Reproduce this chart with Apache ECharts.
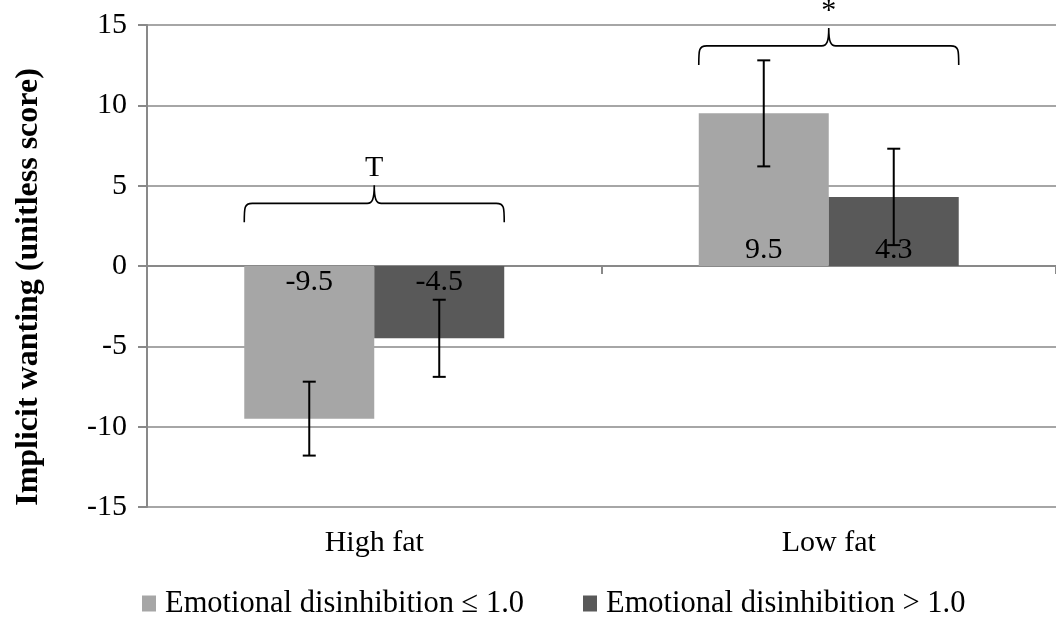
<!DOCTYPE html>
<html>
<head>
<meta charset="utf-8">
<script src="https://cdn.jsdelivr.net/npm/echarts@6/dist/echarts.min.js"></script>
<style>
html,body{margin:0;padding:0;background:#fff;}
#chart{width:1056px;height:621px;}
</style>
</head>
<body>
<div id="chart"></div>
<script>
// ---- data ----
const categories = ['High fat', 'Low fat'];
const seriesNames = ['Emotional disinhibition \u2264 1.0', 'Emotional disinhibition > 1.0'];
const lowEDValues = [-9.5, 9.5];
const highEDValues = [-4.5, 4.3];
const lowEDErrors = [2.3, 3.3];
const highEDErrors = [2.4, 3.0];
const yMin = -15, yMax = 15, yInterval = 5;
const braceCategory = [0, 1];
const braceLevel = [3.9, 13.7];
const braceMark = ['T', '*'];
const yAxisTitle = 'Implicit wanting (unitless score)';

// ---- styling ----
const FONT = "'Liberation Serif', 'Times New Roman', serif";
const FS = 30;
const GRID_COLOR = '#898989';
const BAR_FRAC = 0.286;
const colors = ['#a6a6a6', '#595959'];

function barData(vals) {
  return vals.map(v => ({
    value: v,
    label: { position: v < 0 ? 'insideTop' : 'insideBottom' }
  }));
}
function errData(vals, errs) {
  return vals.map((v, i) => [i, v - errs[i], v + errs[i]]);
}
function errRender(sign) {
  return function (params, api) {
    const x = api.value(0);
    const lo = api.coord([x, api.value(1)]);
    const hi = api.coord([x, api.value(2)]);
    const band = api.size([1, 0])[0];
    const cx = lo[0] + sign * band * BAR_FRAC / 2;
    const cap = 6.5;
    const st = { stroke: '#000', lineWidth: 2 };
    return {
      type: 'group',
      children: [
        { type: 'line', shape: { x1: cx, y1: lo[1], x2: cx, y2: hi[1] }, style: st },
        { type: 'line', shape: { x1: cx - cap, y1: lo[1], x2: cx + cap, y2: lo[1] }, style: st },
        { type: 'line', shape: { x1: cx - cap, y1: hi[1], x2: cx + cap, y2: hi[1] }, style: st }
      ]
    };
  };
}
function braceRender(params, api) {
  const i = api.value(0);
  const p = api.coord([i, api.value(1)]);
  const band = api.size([1, 0])[0];
  const half = band * BAR_FRAC;
  const xm = p[0], y = p[1];
  const x0 = xm - half, x1 = xm + half;
  const drop = 19, rise = 18;
  const d = 'M' + x0 + ' ' + (y + drop) +
    ' C' + x0 + ' ' + (y + 4) + ' ' + x0 + ' ' + y + ' ' + (x0 + 8) + ' ' + y +
    ' L' + (xm - 7) + ' ' + y +
    ' C' + (xm - 2) + ' ' + y + ' ' + xm + ' ' + (y - 4) + ' ' + xm + ' ' + (y - rise) +
    ' C' + xm + ' ' + (y - 4) + ' ' + (xm + 2) + ' ' + y + ' ' + (xm + 7) + ' ' + y +
    ' L' + (x1 - 8) + ' ' + y +
    ' C' + x1 + ' ' + y + ' ' + x1 + ' ' + (y + 4) + ' ' + x1 + ' ' + (y + drop);
  return {
    type: 'group',
    children: [
      { type: 'path', shape: { pathData: d }, style: { stroke: '#000', lineWidth: 1.6, fill: null } },
      { type: 'text', style: { text: braceMark[params.dataIndex], x: xm, y: y - rise - 2,
        align: 'center', verticalAlign: 'bottom', fontSize: FS, fontFamily: FONT, fill: '#000' } }
    ]
  };
}

const chart = echarts.init(document.getElementById('chart'), null, { renderer: 'canvas' });
chart.setOption({
  animation: false,
  backgroundColor: '#fff',
  textStyle: { fontFamily: FONT },
  grid: { left: 147, right: -7, top: 25, bottom: 114, containLabel: false },
  legend: {
    data: seriesNames,
    left: 142, top: 588, padding: 0,
    icon: 'rect', itemWidth: 14, itemHeight: 16, itemGap: 59,
    textStyle: { fontFamily: FONT, fontSize: 30.5, color: '#000', padding: [0, 0, 0, 4] }
  },
  xAxis: [
    {
      type: 'category', data: categories, position: 'bottom',
      axisLine: { show: false, onZero: false },
      axisTick: { show: false },
      axisLabel: { margin: 21, fontFamily: FONT, fontSize: FS, color: '#000' },
      splitLine: { show: false }
    },
    {
      type: 'category', data: categories, position: 'bottom',
      axisLine: { show: true, onZero: true, lineStyle: { color: GRID_COLOR, width: 2 } },
      axisTick: { show: true, length: 8, lineStyle: { color: GRID_COLOR, width: 2 } },
      axisLabel: { show: false },
      splitLine: { show: false }
    }
  ],
  yAxis: {
    type: 'value', min: yMin, max: yMax, interval: yInterval,
    name: yAxisTitle, nameLocation: 'middle', nameGap: 102, nameRotate: 90,
    nameTextStyle: { fontFamily: FONT, fontSize: 32, fontWeight: 'bold', color: '#000', padding: [0, 42, 0, 0] },
    axisLine: { show: true, lineStyle: { color: GRID_COLOR, width: 2 } },
    axisTick: { show: true, length: 9, lineStyle: { color: GRID_COLOR, width: 2 } },
    axisLabel: { margin: 20, fontFamily: FONT, fontSize: FS, color: '#000' },
    splitLine: { show: true, lineStyle: { color: GRID_COLOR, width: 1.6 } }
  },
  series: [
    {
      name: seriesNames[0], type: 'bar', xAxisIndex: 0, data: barData(lowEDValues),
      barWidth: (BAR_FRAC * 100) + '%', barGap: '0%',
      itemStyle: { color: colors[0] },
      label: { show: true, distance: 1, fontFamily: FONT, fontSize: FS, color: '#000',
        formatter: p => p.value.toFixed(1) }
    },
    {
      name: seriesNames[1], type: 'bar', xAxisIndex: 0, data: barData(highEDValues),
      barWidth: (BAR_FRAC * 100) + '%', barGap: '0%',
      itemStyle: { color: colors[1] },
      label: { show: true, distance: 1, fontFamily: FONT, fontSize: FS, color: '#000',
        formatter: p => p.value.toFixed(1) }
    },
    { type: 'custom', xAxisIndex: 0, renderItem: errRender(-1), data: errData(lowEDValues, lowEDErrors), z: 5 },
    { type: 'custom', xAxisIndex: 0, renderItem: errRender(1), data: errData(highEDValues, highEDErrors), z: 5 },
    { type: 'custom', xAxisIndex: 0, renderItem: braceRender,
      data: braceCategory.map((c, i) => [c, braceLevel[i]]), z: 5 }
  ]
});
</script>
</body>
</html>
